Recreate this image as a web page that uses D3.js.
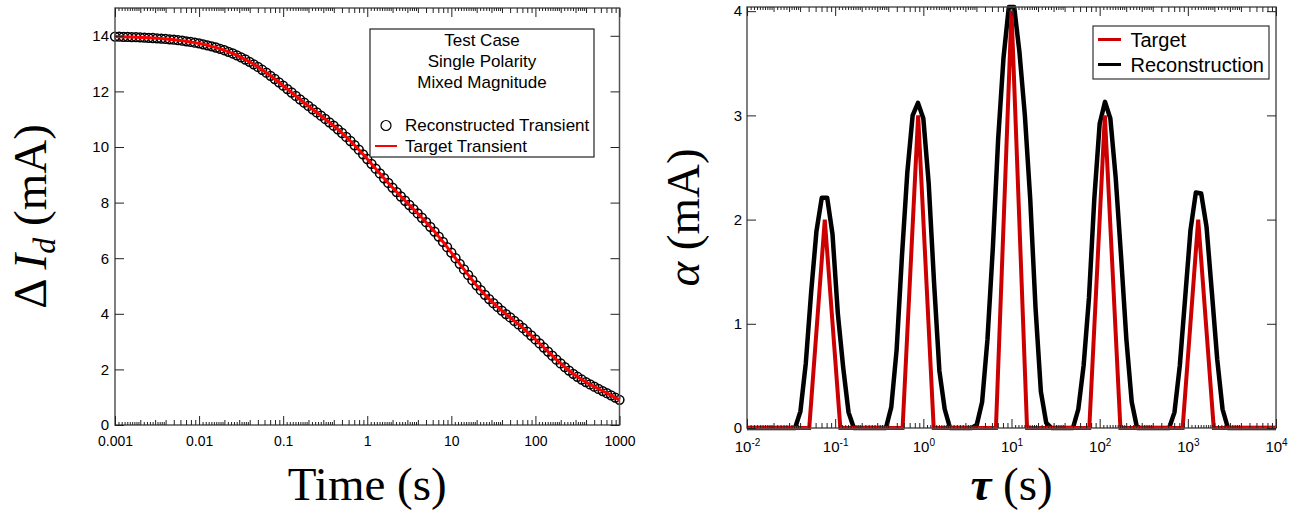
<!DOCTYPE html>
<html>
<head>
<meta charset="utf-8">
<script src="https://cdn.jsdelivr.net/npm/d3@7"></script>
<style>
  body { margin: 0; background: #fff; }
  svg { display: block; }
</style>
</head>
<body>
<div id="chart"></div>
<script>
// Transient: time (s) and current change (mA)
const transientTime = [
  1e-3, 1.122e-3, 1.259e-3, 1.413e-3, 1.585e-3, 1.778e-3, 1.995e-3, 2.239e-3, 2.512e-3, 2.818e-3,
  3.162e-3, 3.548e-3, 3.981e-3, 4.467e-3, 5.012e-3, 5.623e-3, 6.310e-3, 7.079e-3, 7.943e-3, 8.913e-3,
  1e-2, 1.122e-2, 1.259e-2, 1.413e-2, 1.585e-2, 1.778e-2, 1.995e-2, 2.239e-2, 2.512e-2, 2.818e-2,
  3.162e-2, 3.548e-2, 3.981e-2, 4.467e-2, 5.012e-2, 5.623e-2, 6.310e-2, 7.079e-2, 7.943e-2, 8.913e-2,
  1e-1, 1.122e-1, 1.259e-1, 1.413e-1, 1.585e-1, 1.778e-1, 1.995e-1, 2.239e-1, 2.512e-1, 2.818e-1,
  3.162e-1, 3.548e-1, 3.981e-1, 4.467e-1, 5.012e-1, 5.623e-1, 6.310e-1, 7.079e-1, 7.943e-1, 8.913e-1,
  1, 1.122, 1.259, 1.413, 1.585, 1.778, 1.995, 2.239, 2.512, 2.818,
  3.162, 3.548, 3.981, 4.467, 5.012, 5.623, 6.310, 7.079, 7.943, 8.913,
  10, 11.22, 12.59, 14.13, 15.85, 17.78, 19.95, 22.39, 25.12, 28.18,
  31.62, 35.48, 39.81, 44.67, 50.12, 56.23, 63.10, 70.79, 79.43, 89.13,
  100, 112.2, 125.9, 141.3, 158.5, 177.8, 199.5, 223.9, 251.2, 281.8,
  316.2, 354.8, 398.1, 446.7, 501.2, 562.3, 631.0, 707.9, 794.3, 891.3,
  1000
];
const transientCurrent = [
  13.971, 13.968, 13.964, 13.959, 13.955, 13.949, 13.943, 13.936, 13.928, 13.920,
  13.910, 13.899, 13.887, 13.874, 13.859, 13.842, 13.824, 13.803, 13.780, 13.754,
  13.726, 13.694, 13.659, 13.621, 13.579, 13.532, 13.481, 13.425, 13.364, 13.297,
  13.225, 13.147, 13.064, 12.974, 12.879, 12.778, 12.672, 12.561, 12.446, 12.328,
  12.207, 12.084, 11.961, 11.838, 11.716, 11.595, 11.476, 11.358, 11.242, 11.125,
  11.008, 10.888, 10.765, 10.637, 10.504, 10.363, 10.216, 10.063, 9.903, 9.738,
  9.568, 9.396, 9.222, 9.048, 8.876, 8.706, 8.540, 8.378, 8.220, 8.066,
  7.914, 7.762, 7.610, 7.455, 7.295, 7.129, 6.957, 6.777, 6.590, 6.397,
  6.200, 5.999, 5.797, 5.596, 5.399, 5.208, 5.024, 4.848, 4.683, 4.528,
  4.383, 4.246, 4.116, 3.991, 3.868, 3.744, 3.619, 3.490, 3.357, 3.220,
  3.078, 2.933, 2.787, 2.640, 2.494, 2.351, 2.214, 2.082, 1.958, 1.842,
  1.735, 1.636, 1.544, 1.459, 1.378, 1.299, 1.222, 1.145, 1.067, 0.986,
  0.904
];

// Target spectrum (red)
const targetTau = [
  0.01, 0.01501, 0.02254, 0.03384, 0.05080, 0.07626, 0.1145, 0.1719, 0.2581, 0.3875,
  0.5817, 0.8733, 1.311, 1.968, 2.955, 4.437, 6.661, 10, 15.01, 22.54,
  33.84, 50.80, 76.26, 114.5, 171.9, 258.1, 387.5, 581.7, 873.3, 1311,
  1968, 2955, 4437, 6661, 10000
];
const targetAlpha = [
  0, 0, 0, 0, 0, 2, 0, 0, 0, 0,
  0, 3, 0, 0, 0, 0, 0, 4, 0, 0,
  0, 0, 0, 3, 0, 0, 0, 0, 0, 2,
  0, 0, 0, 0, 0
];

// Reconstructed spectrum (black)
const reconTau = [
  0.01, 0.03511, 0.04037, 0.04642, 0.05337, 0.06136, 0.07055, 0.08111, 0.09326, 0.1072, 0.1233, 0.1418, 0.1630,
  0.3765, 0.4329, 0.4977, 0.5722, 0.6579, 0.7565, 0.8697, 1.0, 1.150, 1.322, 1.520, 1.748, 2.009,
  3.511, 4.037, 4.642, 5.337, 6.136, 7.055, 8.111, 9.326, 10.72, 12.33, 14.18, 16.30, 18.74, 21.54, 24.77, 28.48,
  49.77, 57.22, 65.79, 75.65, 86.97, 100, 115.0, 132.2, 152.0, 174.8, 200.9, 231.0, 265.6,
  613.6, 705.5, 811.1, 932.6, 1072, 1233, 1418, 1630, 1874, 2154, 2477, 2848,
  10000
];
const reconAlpha = [
  0, 0, 0.16, 0.62, 1.30, 1.89, 2.21, 2.21, 1.86, 1.10, 0.58, 0.15, 0,
  0, 0.20, 0.75, 1.65, 2.45, 3.00, 3.12, 2.97, 2.35, 1.40, 0.55, 0.18, 0,
  0, 0.03, 0.25, 0.85, 1.72, 2.77, 3.55, 4.04, 4.04, 3.60, 3.00, 2.20, 1.15, 0.35, 0.05, 0,
  0, 0.18, 0.60, 1.25, 2.20, 2.92, 3.13, 2.97, 2.40, 1.65, 0.85, 0.25, 0,
  0, 0.15, 0.60, 1.25, 1.90, 2.26, 2.25, 1.93, 1.30, 0.66, 0.18, 0,
  0
];

const timeTicks = [0.001, 0.01, 0.1, 1, 10, 100, 1000];
const timeLabels = ["0.001", "0.01", "0.1", "1", "10", "100", "1000"];
const currentTicks = [0, 2, 4, 6, 8, 10, 12, 14];
const tauTicks = [1e-2, 1e-1, 1e0, 1e1, 1e2, 1e3, 1e4];
const alphaTicks = [0, 1, 2, 3, 4];
const infoLines = ["Test Case", "Single Polarity", "Mixed Magnitude"];

const width = 1296, height = 510;
const sans = "'Liberation Sans', Arial, Helvetica, sans-serif";
const serif = "'Liberation Serif', 'Times New Roman', Times, serif";
const frameColor = "#555";

const svg = d3.create("svg")
  .attr("width", width)
  .attr("height", height)
  .attr("viewBox", [0, 0, width, height])
  .style("font-family", sans);
d3.select("#chart").append(() => svg.node());

// minor ticks for log axes: dense small ones up to ~4, medium ones at 2..9
const smallMant = [1.1, 1.2, 1.3, 1.4, 1.5, 1.6, 1.7, 1.8, 1.9, 2.2, 2.4, 2.6, 2.8, 3.2, 3.4, 3.6, 3.8];
const midMant = [2, 3, 4, 5, 6, 7, 8, 9];
function minorTicks(scale, mant) {
  const [a, b] = scale.domain();
  const out = [];
  for (let e = Math.round(Math.log10(a)); e < Math.round(Math.log10(b)); e++)
    mant.forEach(m => out.push(m * Math.pow(10, e)));
  return out;
}

function frame(box) {
  svg.append("rect")
    .attr("x", box.l).attr("y", box.t)
    .attr("width", box.r - box.l).attr("height", box.b - box.t)
    .attr("fill", "none").attr("stroke", frameColor).attr("stroke-width", 1.5);
}

function logXAxes(x, box, ticks, fmt, pad) {
  const mk = (gen, y, vals, size, f) => svg.append("g")
    .attr("transform", `translate(0,${y})`)
    .call(gen(x).tickValues(vals).tickSize(-size).tickPadding(pad).tickFormat(f))
    .call(g => g.select(".domain").remove())
    .call(g => g.selectAll(".tick line").attr("stroke", "#222"));
  const bottom = mk(d3.axisBottom, box.b, ticks, 9, fmt);
  mk(d3.axisBottom, box.b, minorTicks(x, smallMant), 3, "");
  mk(d3.axisBottom, box.b, minorTicks(x, midMant), 5, "");
  mk(d3.axisTop, box.t, ticks, 9, "");
  mk(d3.axisTop, box.t, minorTicks(x, smallMant), 3, "");
  mk(d3.axisTop, box.t, minorTicks(x, midMant), 5, "");
  bottom.selectAll(".tick text").attr("font-size", 14).attr("fill", "#000").attr("font-family", sans);
  return bottom;
}

function linYAxes(y, box, ticks, pad) {
  svg.append("g")
    .attr("transform", `translate(${box.l},0)`)
    .call(d3.axisLeft(y).tickValues(ticks).tickSize(-9).tickPadding(pad).tickFormat(d3.format("d")))
    .call(g => g.select(".domain").remove())
    .call(g => g.selectAll(".tick line").attr("stroke", "#222"))
    .call(g => g.selectAll(".tick text").attr("font-size", 15).attr("fill", "#000").attr("font-family", sans));
  svg.append("g")
    .attr("transform", `translate(${box.r},0)`)
    .call(d3.axisRight(y).tickValues(ticks).tickSize(-9).tickFormat(""))
    .call(g => g.select(".domain").remove())
    .call(g => g.selectAll(".tick line").attr("stroke", "#222"));
}

// ---------------- Left panel: transient ----------------
const L = { l: 115, r: 619.5, t: 8, b: 425 };
const xT = d3.scaleLog().domain([0.001, 1000]).range([L.l, L.r]);
const yI = d3.scaleLinear().domain([0, 15]).range([L.b, L.t]);

const transient = transientTime.map((t, i) => ({ t, v: transientCurrent[i] }));

svg.append("g")
  .selectAll("circle")
  .data(transient)
  .join("circle")
  .attr("cx", d => xT(d.t))
  .attr("cy", d => yI(d.v))
  .attr("r", 4.4)
  .attr("fill", "none")
  .attr("stroke", "#000")
  .attr("stroke-width", 1.5);

svg.append("path")
  .attr("fill", "none")
  .attr("stroke", "#ff0000")
  .attr("stroke-width", 3)
  .attr("d", d3.line().x(d => xT(d.t)).y(d => yI(d.v))(transient));

frame(L);
logXAxes(xT, L, timeTicks, (d, i) => timeLabels[i], 11);
linYAxes(yI, L, currentTicks, 6);

// legend box
const lg = svg.append("g");
lg.append("rect")
  .attr("x", 370).attr("y", 29).attr("width", 224).attr("height", 128)
  .attr("fill", "#fff").attr("stroke", "#222").attr("stroke-width", 1.2);
lg.selectAll("text.info")
  .data(infoLines)
  .join("text")
  .attr("class", "info")
  .attr("x", 482).attr("y", (d, i) => 46 + i * 20.8)
  .attr("text-anchor", "middle")
  .attr("font-size", 17)
  .text(d => d);
lg.append("circle").attr("cx", 386).attr("cy", 125.5).attr("r", 5)
  .attr("fill", "none").attr("stroke", "#000").attr("stroke-width", 1.2);
lg.append("text").attr("x", 405).attr("y", 131).attr("font-size", 17).text("Reconstructed Transient");
lg.append("line").attr("x1", 375).attr("x2", 397).attr("y1", 146).attr("y2", 146)
  .attr("stroke", "#ff0000").attr("stroke-width", 2);
lg.append("text").attr("x", 405).attr("y", 151.5).attr("font-size", 17).text("Target Transient");

// axis titles
svg.append("text")
  .attr("x", (L.l + L.r) / 2).attr("y", 500)
  .attr("text-anchor", "middle")
  .attr("font-family", serif).attr("font-size", 47)
  .text("Time (s)");

const yt = svg.append("text")
  .attr("transform", `translate(46,${(L.t + L.b) / 2}) rotate(-90)`)
  .attr("text-anchor", "middle")
  .attr("font-family", serif).attr("font-size", 47);
yt.append("tspan").text("\u0394 ");
yt.append("tspan").attr("font-style", "italic").text("I");
yt.append("tspan").attr("font-style", "italic").attr("font-size", 32).attr("dy", 9).text("d");
yt.append("tspan").attr("dy", -9).text(" (mA)");

// ---------------- Right panel: spectrum ----------------
const R = { l: 747, r: 1276, t: 7, b: 428 };
const xTau = d3.scaleLog().domain([1e-2, 1e4]).range([R.l, R.r]);
const yA = d3.scaleLinear().domain([0, 4.04]).range([R.b, R.t]);

const recon = reconTau.map((t, i) => ({ t, v: reconAlpha[i] }));
const target = targetTau.map((t, i) => ({ t, v: targetAlpha[i] }));
const specLine = d3.line().x(d => xTau(d.t)).y(d => yA(d.v));

svg.append("path")
  .attr("fill", "none").attr("stroke", "#000").attr("stroke-width", 4.5)
  .attr("stroke-linejoin", "round")
  .attr("d", specLine(recon));
svg.append("path")
  .attr("fill", "none").attr("stroke", "#cc0000").attr("stroke-width", 4)
  .attr("stroke-linejoin", "miter")
  .attr("d", specLine(target));

frame(R);
const tauAxis = logXAxes(xTau, R, tauTicks, d => "", 14);
tauAxis.selectAll(".tick text").each(function (d) {
  const t = d3.select(this);
  t.append("tspan").attr("font-size", 15).text("10");
  t.append("tspan").attr("font-size", 10).attr("dy", "-0.55em").text(Math.round(Math.log10(d)));
});
linYAxes(yA, R, alphaTicks, 5);

// legend
const rg = svg.append("g");
rg.append("rect")
  .attr("x", 1093).attr("y", 26).attr("width", 176).attr("height", 53)
  .attr("fill", "#fff").attr("stroke", "#333").attr("stroke-width", 1.2);
[["Target", "#cc0000"], ["Reconstruction", "#000"]].forEach(([name, c], i) => {
  rg.append("line").attr("x1", 1098).attr("x2", 1121)
    .attr("y1", 39.5 + i * 25).attr("y2", 39.5 + i * 25)
    .attr("stroke", c).attr("stroke-width", 3);
  rg.append("text").attr("x", 1130.5).attr("y", 46.5 + i * 25)
    .attr("font-size", 20).text(name);
});

svg.append("text")
  .attr("x", (R.l + R.r) / 2).attr("y", 500)
  .attr("text-anchor", "middle")
  .attr("font-family", serif).attr("font-size", 47)
  .call(t => t.append("tspan").attr("font-style", "italic").attr("font-weight", "bold").text("\u03c4"))
  .call(t => t.append("tspan").text(" (s)"));

const at = svg.append("text")
  .attr("transform", `translate(699,${(R.t + R.b) / 2}) rotate(-90)`)
  .attr("text-anchor", "middle")
  .attr("font-family", serif).attr("font-size", 47);
at.append("tspan").attr("font-style", "italic").text("\u03b1");
at.append("tspan").text(" (mA)");
</script>
</body>
</html>
